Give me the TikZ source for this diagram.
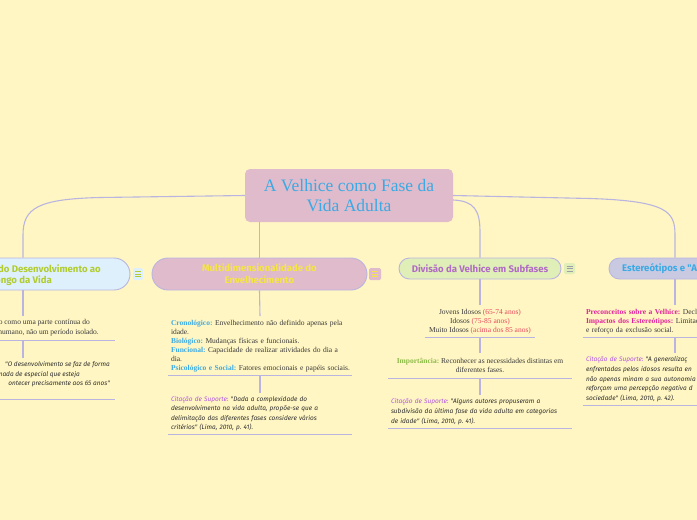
\documentclass[tikz,border=0pt]{standalone}
\usepackage{fontspec}
\setmainfont{Liberation Serif}
\newfontfamily\pillfont{Fira Sans}
\newfontfamily\citefont{Fira Sans}
\usetikzlibrary{calc}
\frenchspacing
\hyphenpenalty=10000
\exhyphenpenalty=10000
\definecolor{bg}{HTML}{FFF6C3}
\definecolor{lnk}{HTML}{B9B5E0}
\definecolor{pinkf}{HTML}{E0BBCB}
\definecolor{bluet}{HTML}{3BAAE4}
\definecolor{yelt}{HTML}{F5E547}
\definecolor{lbluef}{HTML}{DDF0FB}
\definecolor{lgreent}{HTML}{B2CC2F}
\definecolor{greenf}{HTML}{E0EEB8}
\definecolor{purplet}{HTML}{B06CC4}
\definecolor{grayf}{HTML}{C9CAE2}
\definecolor{bodyt}{HTML}{3A3A3A}
\definecolor{citebody}{HTML}{2E2E2E}
\definecolor{redt}{HTML}{E8465C}
\definecolor{impt}{HTML}{8DBB48}
\definecolor{citet}{HTML}{B153E2}
\definecolor{magt}{HTML}{E0229C}
\definecolor{icongray}{HTML}{A09CA8}
\begin{document}
\begin{tikzpicture}[x=1pt,y=-1pt,
  link/.style={draw=lnk, line width=1.1pt},
  rule/.style={draw=lnk, line width=1pt},
  central/.style={fill=pinkf, rounded corners=5pt, minimum width=208pt, minimum height=53pt, inner sep=0pt, align=center, text=bluet, font=\fontsize{17.5}{20}\selectfont},
  pilltall/.style={draw=lnk, line width=0.9pt, rounded corners=16pt, minimum height=32pt, inner sep=0pt, align=center, font=\pillfont\bfseries\fontsize{9.6}{12}\selectfont},
  pillshort/.style={draw=lnk, line width=0.9pt, rounded corners=10.5pt, minimum height=21pt, inner sep=0pt, align=center, font=\pillfont\bfseries\fontsize{9.6}{12}\selectfont},
  pilltext/.style={inner sep=0pt, font=\pillfont\bfseries\fontsize{9.6}{12}\selectfont},
  sub/.style={anchor=north, inner xsep=3pt, inner ysep=0pt, text width=178pt, align=left, text=bodyt, font=\fontsize{7.5}{9}\selectfont},
  cite/.style={sub, text=citebody, font=\citefont\itshape\fontsize{6.5}{9.6}\selectfont},
  ctr/.style={anchor=north, inner xsep=0pt, inner ysep=0pt, align=center, text=bodyt, font=\fontsize{7.5}{9}\selectfont},
  frag/.style={inner sep=0pt, text=bodyt, font=\fontsize{7.5}{9}\selectfont},
  citefrag/.style={frag, text=citebody, font=\citefont\itshape\fontsize{6.5}{9.6}\selectfont},
  menu/.style={rounded corners=1.5pt, inner sep=0pt, minimum width=11pt, minimum height=11pt},
]
\fill[bg] (0,0) rectangle (697,520);
\useasboundingbox (0,0) rectangle (697,520);
\clip (0,0) rectangle (697,520);

% central
\node[central] (c) at (349,195.5) {A Velhice como Fase da\\Vida Adulta};

% branch pills
\node[pilltall, fill=lbluef, minimum width=214pt] (lp) at (23,274) {};
\node[pilltext, anchor=east, text=lgreent] (lpt1) at (101,269) {do Desenvolvimento ao};
\node[pilltext, anchor=east, text=lgreent] (lpt2) at (52,281) {ongo da Vida};
\node[pilltall, fill=pinkf, text=yelt, minimum width=215pt] (mp) at (259.5,274) {Multidimensionalidade do\\Envelhecimento};
\node[pillshort, fill=greenf, text=purplet, minimum width=162pt] (dp) at (480,268.5) {Divisão da Velhice em Subfases};
\node[pillshort, fill=grayf, minimum width=132pt] (ep) at (675,268.5) {};
\node[pilltext, anchor=west, text=bluet] (ept) at (622,268.5) {Estereótipos e "A};

% icons
\node[menu, fill=lbluef, minimum width=10pt, minimum height=12pt] (li) at (138,274) {};
\node[menu, fill=pinkf, minimum width=12pt, minimum height=12pt] (mi) at (375,274) {};
\node[menu, fill=greenf] (di) at (569.5,268.5) {};
\foreach \d in {-2.5,0,2.5} {
  \draw[lgreent, line width=0.8pt] ($(li.center)+(-3,\d)$) -- ++(6,0);
  \draw[yelt, line width=0.8pt] ($(mi.center)+(-3,\d)$) -- ++(6,0);
  \draw[icongray, line width=0.8pt] ($(di.center)+(-3,\d)$) -- ++(6,0);
}

% connectors from central
\draw[link] (c.west) -- (100,197.5) .. controls (38,199) and (23,208) .. (23,235) -- (lp.north);
\draw[link] (mp.north |- c.south) -- (mp.north);
\draw[link] ($(c.east)+(0,4.5)$) .. controls (474,201) and (480,210) .. (480,232) -- (dp.north);
\draw[link] (c.east) -- (590,198.5) .. controls (668,201) and (675,212) .. (675,235) -- (ep.north);

% left branch
\node[sub, minimum height=24pt] (l1) at (23,316) {};
\node[frag, anchor=east] (l1a) at (90,323) {o como uma parte contínua do};
\node[frag, anchor=east] (l1b) at (99,333) {humano, não um período isolado.};
\node[cite, minimum height=41pt] (l2) at (23,358) {};
\node[citefrag, anchor=east] (l2a) at (110,365) {"O desenvolvimento se faz de forma};
\node[citefrag, anchor=east] (l2b) at (80,374.5) {nada de especial que esteja};
\node[citefrag, anchor=east] (l2c) at (110,384) {ontecer precisamente aos 65 anos"};
\draw[link] (lp.south) -- (l1.north);
\draw[rule] (l1.south west) -- (l1.south east);
\draw[link] (l1.south) -- (l2.north);
\draw[rule] (l2.south west) -- (l2.south east);

% multidimensional branch
\node[sub, minimum height=59pt] (m1) at (260,316) {\mbox{\textcolor{bluet}{\textbf{Cronológico:}} Envelhecimento não definido apenas pela}\\idade.\\\textcolor{bluet}{\textbf{Biológico:}} Mudanças físicas e funcionais.\\\mbox{\textcolor{bluet}{\textbf{Funcional:}} Capacidade de realizar atividades do dia a}\\dia.\\\mbox{\textcolor{bluet}{\textbf{Psicológico e Social:}} Fatores emocionais e papéis sociais.}};
\node[cite, minimum height=41pt] (m2) at (260,393) {\textcolor{citet}{Citação de Suporte:} "Dada a complexidade do\\desenvolvimento na vida adulta, propõe-se que a\\delimitação das diferentes fases considere vários\\critérios" (Lima, 2010, p. 41).};
\draw[link] (mp.south) -- (m1.north);
\draw[rule] (m1.south west) -- (m1.south east);
\draw[link] (m1.south) -- (m2.north);
\draw[rule] (m2.south west) -- (m2.south east);

% divisao branch
\node[ctr, minimum width=110pt, minimum height=32pt] (d1) at (480,305) {Jovens Idosos \textcolor{redt}{(65-74 anos)}\\Idosos \textcolor{redt}{(75-85 anos)}\\Muito Idosos \textcolor{redt}{(acima dos 85 anos)}};
\node[ctr, minimum width=184pt, minimum height=25pt] (d2) at (480,353) {\textcolor{impt}{\textbf{Importância:}} Reconhecer as necessidades distintas em\\diferentes fases.};
\node[cite, minimum height=33pt] (d3) at (480,395) {\textcolor{citet}{Citação de Suporte:} "Alguns autores propuseram a\\\mbox{subdivisão da última fase da vida adulta em categorias}\\de idade" (Lima, 2010, p. 41).};
\draw[link] (dp.south) -- (d1.north);
\draw[rule] (d1.south west) -- (d1.south east);
\draw[link] (d1.south) -- (d2.north);
\draw[rule] (d2.south west) -- (d2.south east);
\draw[link] (d2.south) -- (d3.north);
\draw[rule] (d3.south west) -- (d3.south east);

% estereotipos branch
\node[sub, minimum height=32pt] (e1) at (675,305) {\textcolor{magt}{\textbf{Preconceitos sobre a Velhice:}} Decli\\\textcolor{magt}{\textbf{Impactos dos Estereótipos:}} Limitaç\\e reforço da exclusão social.};
\node[cite, minimum height=52pt] (e2) at (675,353) {\textcolor{citet}{Citação de Suporte:} "A generalizaç\\enfrentadas pelos idosos resulta en\\não apenas minam a sua autonomia\\reforçam uma percepção negativa d\\sociedade" (Lima, 2010, p. 42).};
\draw[link] (ep.south) -- (e1.north);
\draw[rule] (e1.south west) -- (e1.south east);
\draw[link] (e1.south) -- (e2.north);
\draw[rule] (e2.south west) -- (e2.south east);
\end{tikzpicture}
\end{document}
